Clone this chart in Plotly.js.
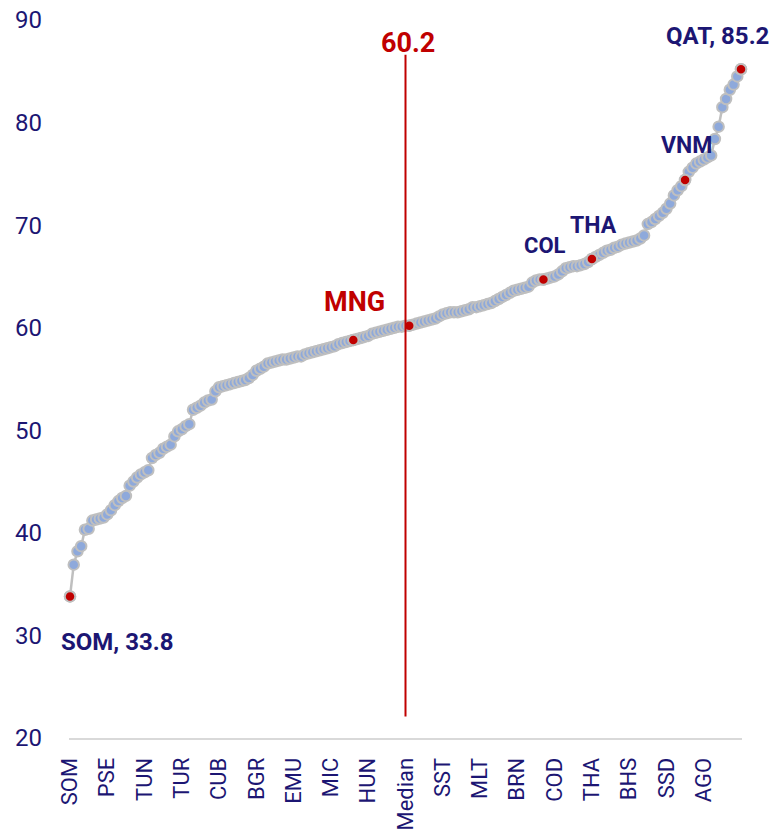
<!DOCTYPE html>
<html><head><meta charset="utf-8">
<script src="https://cdn.plot.ly/plotly-3.0.1.min.js"></script>
<style>html,body{margin:0;padding:0;background:#fff}#chart{width:774px;height:834px}</style>
</head><body><div id="chart"></div>
<script>
const values = [
33.8,36.9,38.2,38.7,40.3,40.4,41.2,41.3,41.4,41.5,
41.8,42.2,42.7,43.1,43.4,43.6,44.6,45.0,45.4,45.7,
45.9,46.1,47.3,47.6,47.8,48.2,48.4,48.6,49.4,49.9,
50.1,50.4,50.6,52.0,52.2,52.4,52.7,52.9,53.0,53.8,
54.2,54.3,54.4,54.5,54.6,54.7,54.8,54.9,55.1,55.4,
55.8,56.0,56.2,56.5,56.6,56.7,56.8,56.9,56.9,57.0,
57.1,57.2,57.2,57.4,57.5,57.6,57.7,57.8,57.9,58.0,
58.1,58.2,58.4,58.5,58.6,58.7,58.8,58.9,59.0,59.1,
59.2,59.4,59.5,59.6,59.7,59.8,59.9,60.0,60.1,60.1,
60.2,60.2,60.3,60.4,60.5,60.6,60.7,60.8,60.9,61.1,
61.3,61.4,61.5,61.5,61.5,61.6,61.7,61.8,62.0,62.0,
62.1,62.2,62.3,62.4,62.6,62.8,63.0,63.2,63.4,63.6,
63.7,63.8,63.9,64.0,64.4,64.6,64.7,64.7,64.8,64.9,
65.0,65.2,65.5,65.8,65.9,66.0,66.0,66.1,66.2,66.4,
66.7,66.9,67.1,67.3,67.5,67.6,67.8,67.9,68.1,68.2,
68.3,68.4,68.5,68.7,69.0,70.1,70.3,70.6,70.9,71.2,
71.6,72.1,72.9,73.4,73.8,74.4,75.2,75.6,76.0,76.2,
76.4,76.6,76.8,78.4,79.6,81.5,82.3,83.2,83.7,84.5,
85.2
];
const tickLabels = ["SOM","PSE","TUN","TUR","CUB","BGR","EMU","MIC","HUN","Median","SST","MLT","BRN","COD","THA","BHS","SSD","AGO"];
const tickIndex = [0,10,20,30,40,50,60,70,80,90,100,110,120,130,140,150,160,170];
const highlightIndex = [0,76,91,127,140,165,180];
const medianIndex = 90;
const medianValue = 60.2;

const NAVY = '#1C1673';
const RED = '#C00000';
const GREY = '#BFBFBF';
const FONT = "Roboto, sans-serif";

const xs = values.map((v, i) => i);

const traces = [
  {
    x: xs, y: values, type: 'scatter', mode: 'lines+markers',
    line: {color: GREY, width: 2.5},
    marker: {size: 10.5, color: '#8EA9DB', line: {color: GREY, width: 2}},
    cliponaxis: false, hoverinfo: 'skip'
  },
  {
    x: highlightIndex, y: highlightIndex.map(i => values[i]), type: 'scatter', mode: 'markers',
    marker: {size: 10.5, color: RED, line: {color: GREY, width: 2}},
    cliponaxis: false, hoverinfo: 'skip'
  }
];

function ann(text, x, y, color, size) {
  return {text: '<b>' + text + '</b>', x: x, y: y, xref: 'x', yref: 'y', showarrow: false,
    xanchor: 'center', yanchor: 'middle', font: {family: FONT, size: size, color: color}};
}

const layout = {
  width: 774, height: 834,
  margin: {l: 69, r: 32, t: 20, b: 96, pad: 0},
  paper_bgcolor: '#fff', plot_bgcolor: '#fff',
  showlegend: false,
  xaxis: {
    range: [-0.27, 180.27], tickmode: 'array', tickvals: tickIndex, ticktext: tickLabels,
    tickangle: -90, showline: true, linecolor: '#D9D9D9', linewidth: 2,
    showgrid: false, zeroline: false, ticks: '', ticklabelstandoff: 9,
    tickfont: {family: FONT, size: 22, color: NAVY}
  },
  yaxis: {
    range: [20, 90], tickmode: 'linear', tick0: 0, dtick: 10,
    showgrid: false, zeroline: false, showline: false, ticks: '', ticklabelstandoff: 26,
    tickfont: {family: FONT, size: 24, color: NAVY}
  },
  shapes: [{
    type: 'line', xref: 'x', yref: 'y', x0: medianIndex, x1: medianIndex, y0: 22.1, y1: 86.6,
    line: {color: RED, width: 2}
  }],
  annotations: [
    ann(medianValue.toFixed(1), 90.8, 87.76, RED, 27),
    ann('MNG', 76.2, 62.46, RED, 27),
    ann('SOM, ' + values[0].toFixed(1), 12.7, 29.36, NAVY, 24),
    ann('QAT, ' + values[180].toFixed(1), 173.7, 88.44, NAVY, 24),
    ann('VNM', 165.4, 77.8, NAVY, 23),
    ann('THA', 140.4, 69.97, NAVY, 23),
    ann('COL', 127.3, 68.0, NAVY, 22)
  ]
};

Plotly.newPlot('chart', traces, layout, {displayModeBar: false, staticPlot: true});
</script>
</body></html>
